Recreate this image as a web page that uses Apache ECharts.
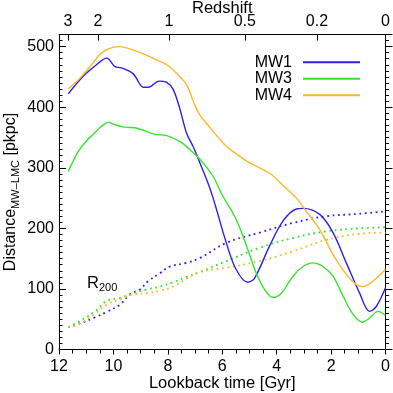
<!DOCTYPE html>
<html><head><meta charset="utf-8">
<script src="https://cdn.jsdelivr.net/npm/echarts@6/dist/echarts.min.js"></script>
<style>html,body{margin:0;padding:0;background:#fff}#c{width:393px;height:393px}</style>
</head><body><div id="c"></div>
<script>
// Lookback time [Gyr] and distance [pkpc]
const mw1Time = [11.66,11.11,10.62,10.25,9.94,9.70,9.27,8.90,8.72,8.32,8.04,7.80,7.55,7.31,7.07,6.82,6.40,5.85,5.49,5.06,4.81,4.26,3.77,3.28,3.03,2.42,1.93,1.44,0.95,0.58,0.34,0.00];
const mw1Dist = [422,451,470,481,467,465,455,433,433,443,441,429,396,357,335,308,259,176,132,111,118,171,212,232,233,223,193,143,93,63,71,102];
const mw3Time = [11.66,11.29,10.96,10.74,10.50,10.19,9.94,9.58,9.21,8.90,8.54,8.04,7.55,7.19,6.82,6.34,6.00,5.49,5.06,4.75,4.44,4.14,3.83,3.40,3.03,2.67,2.30,1.93,1.56,1.19,0.85,0.58,0.28,0.00];
const mw3Dist = [294,327,346,355,366,375,371,367,366,362,356,353,343,330,314,286,255,215,165,126,99,86,93,121,137,143,137,121,88,58,45,52,63,56];
const mw4Time = [11.66,11.29,10.86,10.50,10.25,9.82,9.52,8.90,8.41,8.04,7.68,7.31,7.04,6.82,6.59,5.91,5.61,4.99,4.26,3.65,3.22,2.91,2.42,1.93,1.44,1.07,0.83,0.46,0.00];
const mw4Dist = [430,445,467,487,495,500,498,488,478,470,456,437,407,387,374,338,327,308,291,266,247,228,198,157,124,107,104,113,132];
// R200 (dotted)
const r1Time = [11.66,11.23,10.68,10.25,9.76,9.39,9.03,8.72,8.29,7.92,7.31,6.82,5.85,4.62,3.40,2.18,0.95,0.00];
const r1Dist = [37,43,53,62,74,91,99,113,126,137,143,151,176,193,209,220,224,228];
const r3Time = [11.66,11.23,10.68,10.25,9.76,9.27,8.78,8.29,7.80,7.31,6.82,5.85,4.62,3.40,2.18,0.95,0.00];
const r3Dist = [37,47,63,80,85,93,99,104,111,120,128,146,168,184,195,200,202];
const r4Time = [11.66,11.23,10.68,10.25,9.76,9.27,8.78,8.29,7.80,7.31,6.82,5.85,4.62,3.40,2.18,0.95,0.00];
const r4Dist = [37,43,59,74,83,91,93,97,104,117,128,135,146,162,181,191,193];
// Top axis: redshift labels at lookback times
const redshiftLabels = ['3','2','1','0.5','0.2','0'];
const redshiftTimes = [11.67,10.57,7.96,5.17,2.52,0];
const seriesNames = ['MW1','MW3','MW4'];
const colors = ['#2f1fe6','#33e62a','#ffb628'];

const FONT = 'Liberation Sans, Arial, sans-serif';
const pairs = (t, d) => t.map((x, i) => [x, d[i]]);
const solidSets = [[mw1Time, mw1Dist],[mw3Time, mw3Dist],[mw4Time, mw4Dist]];
const dotSets = [[r1Time, r1Dist],[r3Time, r3Dist],[r4Time, r4Dist]];

const series = [];
dotSets.forEach((s, i) => series.push({
  name: 'R200 ' + seriesNames[i], type: 'line', symbol: 'none', smooth: 0.4,
  data: pairs(s[0], s[1]), lineStyle: {color: colors[i], width: 1.8, type: [1.8, 3.6]},
  itemStyle: {color: colors[i]}, z: 2
}));
solidSets.forEach((s, i) => series.push({
  name: seriesNames[i], type: 'line', symbol: 'none', smooth: 0.35,
  data: pairs(s[0], s[1]), lineStyle: {color: colors[i], width: 1.4},
  itemStyle: {color: colors[i]}, z: 3
}));

const axisCommon = {
  axisLine: {onZero: false, lineStyle: {color: '#000', width: 1}},
  splitLine: {show: false},
  nameMoveOverlap: false,
  nameTextStyle: {color: '#000', fontFamily: FONT, fontSize: 16.5},
  axisLabel: {color: '#000', fontFamily: FONT, fontSize: 16}
};

const chart = echarts.init(document.getElementById('c'), null, {renderer: 'canvas'});
chart.setOption({
  animation: false,
  backgroundColor: '#fff',
  grid: {left: 59, right: 7.5, top: 34.5, bottom: 43.5, containLabel: false, outerBoundsMode: 'none'},
  legend: {
    data: seriesNames, orient: 'vertical', right: 28, top: 49, align: 'right',
    icon: 'rect', itemWidth: 57, itemHeight: 2, itemGap: 0,
    textStyle: {color: '#000', fontFamily: FONT, fontSize: 16, lineHeight: 16.5, padding: [0, 6, 0, 0]}
  },
  xAxis: [{
    ...axisCommon, type: 'value', min: 0, max: 12, interval: 2, inverse: true, position: 'bottom',
    name: 'Lookback time [Gyr]', nameLocation: 'middle', nameGap: 25,
    axisTick: {inside: true, length: -5, lineStyle: {color: '#000'}},
    minorTick: {show: true, splitNumber: 4, length: -4, lineStyle: {color: '#000'}},
    axisLabel: {...axisCommon.axisLabel, margin: 9}
  }, {
    ...axisCommon, type: 'value', min: 0, max: 12, inverse: true, position: 'top',
    name: 'Redshift', nameLocation: 'middle', nameGap: 18,
    axisTick: {inside: true, length: 6, customValues: redshiftTimes, lineStyle: {color: '#000'}},
    axisLabel: {...axisCommon.axisLabel, margin: 5, customValues: redshiftTimes,
      formatter: function (v) {
        let best = 0;
        redshiftTimes.forEach((t, i) => { if (Math.abs(t - v) < Math.abs(redshiftTimes[best] - v)) best = i; });
        return redshiftLabels[best];
      }}
  }],
  yAxis: [{
    ...axisCommon, type: 'value', min: 0, max: 520, interval: 100, position: 'left',
    name: '{a|Distance}{b|MW–LMC}{a| [pkpc]}', nameLocation: 'middle', nameGap: 38,
    nameTextStyle: {color: '#000', fontFamily: FONT, fontSize: 16,
      rich: {a: {fontFamily: FONT, fontSize: 16, color: '#000'},
             b: {fontFamily: FONT, fontSize: 11, color: '#000', padding: [9, 0, 0, 0]}}},
    axisTick: {inside: true, length: 7, lineStyle: {color: '#000'}},
    minorTick: {show: true, splitNumber: 10, length: 3.5, lineStyle: {color: '#000'}},
    axisLabel: {...axisCommon.axisLabel, margin: 5, showMaxLabel: false}
  }, {
    ...axisCommon, type: 'value', min: 0, max: 520, interval: 100, position: 'right',
    axisTick: {inside: false, length: 7, lineStyle: {color: '#000'}},
    minorTick: {show: true, splitNumber: 10, length: 3.5, lineStyle: {color: '#000'}},
    axisLabel: {show: false}
  }],
  graphic: [{
    type: 'text', left: 87, top: 275, silent: true,
    style: {text: '{a|R}{b|200}', fontFamily: FONT,
      rich: {a: {fontFamily: FONT, fontSize: 16.5, fill: '#000'},
             b: {fontFamily: FONT, fontSize: 11, fill: '#000', padding: [9, 0, 0, 0]}}}
  }],
  series: series
});
</script></body></html>
